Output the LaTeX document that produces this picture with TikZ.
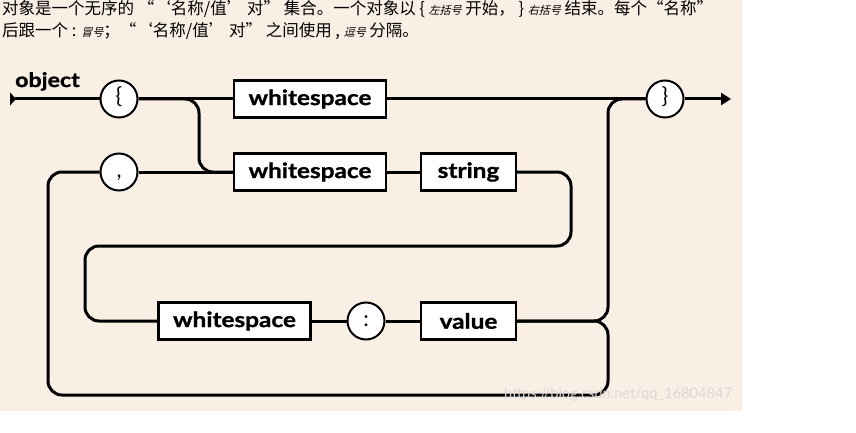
\documentclass[tikz,border=0pt]{standalone}
\usepackage{fontspec}
\setmainfont{Lato}
\newfontfamily\diagfont[FakeStretch=1.16,BoldFeatures={FakeBold=1.2}]{Lato}
\newfontfamily\cjk{Noto Sans CJK SC}
\newfontfamily\cjknote[FakeSlant=0.25]{Noto Sans CJK SC}
\usetikzlibrary{arrows.meta}
\definecolor{paper}{RGB}{250,239,229}
\tikzstyle{every node}=[inner sep=0pt]
\tikzstyle{term}=[draw=black,line width=2.2pt,fill=white,minimum width=152pt,minimum height=37pt,font=\diagfont\bfseries\fontsize{21}{21}\selectfont]
\tikzstyle{punct}=[draw=black,line width=2pt,fill=white,circle,minimum size=37pt,text height=14pt,text depth=4pt,font=\fontsize{22}{22}\selectfont]
\tikzstyle{track}=[line width=3pt,rounded corners=14pt]
\newcommand{\smallnote}[1]{{\cjknote\fontsize{11}{11}\selectfont #1}}

\begin{document}
\begin{tikzpicture}[x=1pt,y=-1pt]
\useasboundingbox (0,0) rectangle (856,433);
\fill[paper] (0,0) rectangle (742,411);
% caption
\node[anchor=west,font=\cjk\fontsize{16.5}{16.5}\selectfont] (lineA) at (2,9)
{对象是一个无序的 “‘名称/值’ 对” 集合。一个对象以 \{ \smallnote{左括号} 开始，\ \} \smallnote{右括号} 结束。每个“名称”};
\node[anchor=west,font=\cjk\fontsize{16.5}{16.5}\selectfont] (lineB) at (2,31)
{后跟一个 : \smallnote{冒号}；“‘名称/值’ 对” 之间使用 , \smallnote{逗号} 分隔。};
\node[anchor=base west,font=\diagfont\bfseries\fontsize{20}{20}\selectfont] (title) at (15,87) {object};
% boxes and circles
\node[term] (wsA) at (310,99) {whitespace};
\node[term] (wsB) at (310,172) {whitespace};
\node[term,minimum width=95pt] (str) at (468.5,172) {string};
\node[term] (wsC) at (234.5,321) {whitespace};
\node[term,minimum width=95pt] (val) at (468.5,321) {value};
\node[punct] (lbrace) at (119,99) {\{};
\node[punct] (comma) at (119,172) {,};
\node[punct] (colon) at (366,321) {:};
\node[punct] (rbrace) at (665,99) {\}};
\coordinate (start) at (10,99);
\coordinate (end) at (731,99);
\coordinate (split) at (199,99);
\coordinate (merge) at (608,99);
\coordinate (innerR) at (571,246);
\coordinate (innerL) at (85,246);
\coordinate (outerR) at (608,395);
\coordinate (outerL) at (48,395);
% tracks
\draw[track,{Triangle[reversed,length=6pt,width=13pt]}-] (start) -- (lbrace.west);
\draw[track] (lbrace.east) -- (wsA.west);
\draw[track] (wsA.east) -- (rbrace.west);
\draw[track,-{Triangle[length=10pt,width=12pt]}] (rbrace.east) -- (end);
\draw[track] (lbrace.east) -| (split |- wsB.west) -- (wsB.west);
\draw[track] (comma.east) -- (wsB.west);
\draw[track] (wsB.east) -- (str.west);
\draw[track] (str.east) -| (innerR) -- (innerL) |- (wsC.west);
\draw[track] (wsC.east) -- (colon.west);
\draw[track] (colon.east) -- (val.west);
\draw[track] (val.east) -| (merge) -- (rbrace.west);
\draw[track] (val.east) -| (outerR) -| (outerL |- comma.west) -- (comma.west);
\node[anchor=west,text=black!15,font=\fontsize{14.6}{14.6}\selectfont] (mark) at (504,394) {https://blog.csdn.net/qq\_16804847};
\end{tikzpicture}
\end{document}
